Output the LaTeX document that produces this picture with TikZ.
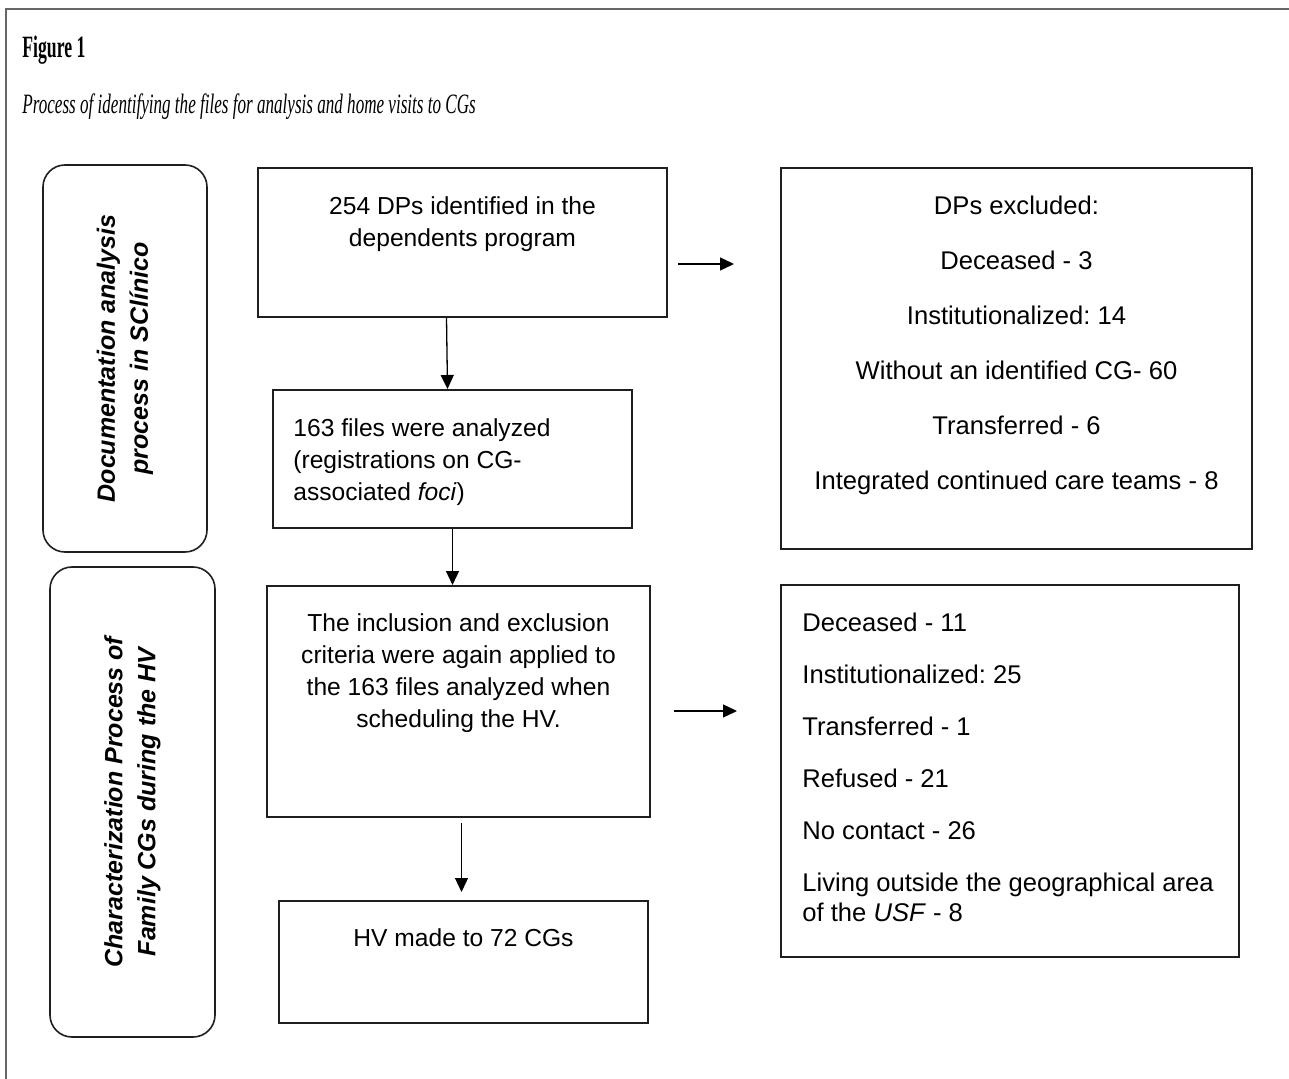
\documentclass[tikz,border=0pt]{standalone}
\usepackage{fontspec}
\setmainfont{Liberation Sans}
\newfontfamily\capfont[FakeStretch=0.61]{Liberation Serif}
\newfontfamily\figfont[FakeStretch=0.57]{Liberation Serif}
\usetikzlibrary{positioning,calc,arrows.meta}
\frenchspacing
\tikzset{
  box/.style={draw=black!88, line width=1pt, inner sep=0pt},
  sidebox/.style={draw=black!88, line width=0.8pt, rounded corners=11pt, rotate=90, align=center,
    font=\fontsize{12.5}{16.5}\selectfont\bfseries\itshape},
  txt/.style={inner sep=0pt, font=\fontsize{12.3}{16}\selectfont},
  listtxt/.style={inner sep=0pt, font=\fontsize{12.8}{16}\selectfont},
  arr/.style={line width=0.65pt, -{Triangle[length=7pt,width=6.5pt]}},
}
\begin{document}
\begin{tikzpicture}[x=0.5pt, y=-0.5pt]
    \useasboundingbox (0,0) rectangle (1289,1079);
    \draw[black!60, line width=1pt] (6,1079) -- (6,9) -- (1289,9);
    \node[anchor=base west, inner sep=0pt, font=\fontsize{15.5}{18}\selectfont\figfont\bfseries] (fig) at (22,58) {Figure 1};
    \node[anchor=base west, inner sep=0pt, font=\fontsize{14}{16}\selectfont\capfont\itshape] (cap) at (22,114) {Process of identifying the files for analysis and home visits to CGs};
    % phases on the left
    \node[sidebox, minimum width=193.5pt, minimum height=82pt] (doc) at (125,358.5) {Documentation analysis\\process in SClínico};
    \node[sidebox, minimum width=235pt, minimum height=82.5pt] (hv) at (132.5,802) {Characterization Process of\\Family CGs during the HV};
    % main column
    \node[box, minimum width=204.5pt, minimum height=74.5pt] (dp) at (462.5,242.5) {};
    \node[txt, align=center, below=14.5pt of dp.north] (dpt) {254 DPs identified in the\\dependents program};
    \node[box, minimum width=179.5pt, minimum height=69pt] (files) at (452.5,459) {};
    \node[txt, align=left, below right=14.5pt and 10.5pt of files.north west] (filest) {163 files were analyzed\\(registrations on CG-\\associated \textit{foci})};
    \node[box, minimum width=191.5pt, minimum height=115.5pt] (crit) at (458.5,701.5) {};
    \node[txt, align=center, below=14pt of crit.north] (critt) {The inclusion and exclusion\\criteria were again applied to\\the 163 files analyzed when\\scheduling the HV.};
    \node[box, minimum width=184.5pt, minimum height=61pt] (visit) at (463.5,962) {};
    \node[txt, below=14pt of visit.north] (visitt) {HV made to 72 CGs};
    % exclusions
    \node[box, minimum width=235.5pt, minimum height=190.5pt] (excl) at (1016.5,358.5) {};
    \node[listtxt, align=center, below=14.5pt of excl.north] (exclt) {DPs excluded:\\[11.5pt]
        Deceased - 3\\[11.5pt]
        Institutionalized: 14\\[11.5pt]
        Without an identified CG- 60\\[11.5pt]
        Transferred - 6\\[11.5pt]
        Integrated continued care teams - 8};
    \node[box, minimum width=229pt, minimum height=186pt] (lost) at (1010,771) {};
    \node[listtxt, align=left, below right=14.5pt and 11pt of lost.north west] (lostt) {Deceased - 11\\[10pt]
        Institutionalized: 25\\[10pt]
        Transferred - 1\\[10pt]
        Refused - 21\\[10pt]
        No contact - 26\\[10pt]
        Living outside the geographical area\\[-1pt]
        of the \textit{USF} - 8};
    % arrows
    \coordinate (dpS) at ($(dp.east)+(5pt,-10.75pt)$);
    \coordinate (dpT) at ($(dpS -| excl.west)+(-23pt,0)$);
    \coordinate (critS) at ($(crit.east)+(11.5pt,-4.75pt)$);
    \coordinate (critT) at ($(critS -| lost.west)+(-21.5pt,0)$);
    \draw[arr] ([xshift=-8pt]dp.south) -- ([xshift=-2.5pt]files.north);
    \draw[arr] (files.south) -- ([xshift=-3pt]crit.north);
    \draw[arr] ([xshift=1.5pt,yshift=-2.5pt]crit.south) -- ([xshift=-1pt,yshift=4pt]visit.north);
    \draw[arr] (dpS) -- (dpT);
    \draw[arr] (critS) -- (critT);
\end{tikzpicture}
\end{document}
